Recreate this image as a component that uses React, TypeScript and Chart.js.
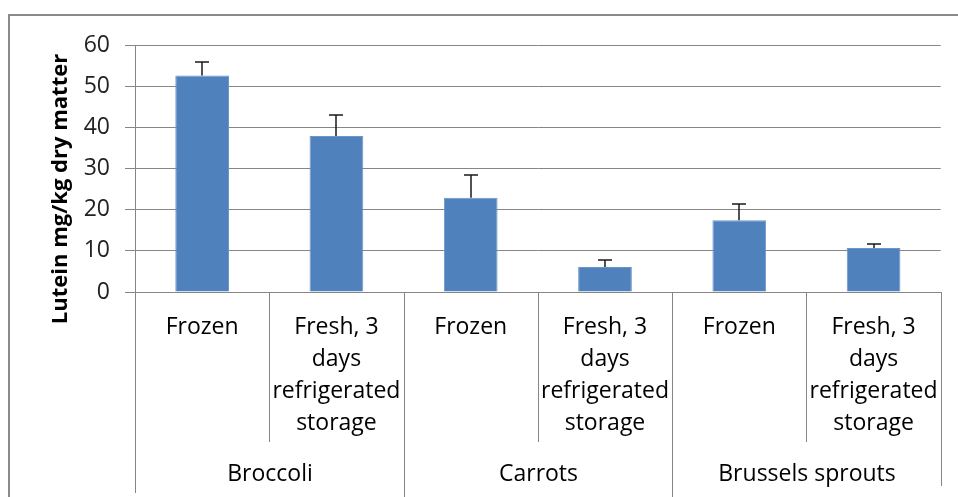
import React, { useEffect, useRef } from "react";
import { Chart, registerables } from "chart.js";

Chart.register(...registerables);

// ---- data ----
const groups: string[] = ["Broccoli", "Carrots", "Brussels sprouts"];
const treatments: string[][] = [["Frozen"], ["Fresh, 3", "days", "refrigerated", "storage"]];
const categoryLabels: string[][] = groups.flatMap(() => treatments);
const luteinMeans: number[] = [52.6, 37.9, 22.9, 6.1, 17.4, 10.7];
const luteinErrors: number[] = [3.2, 5.2, 5.5, 1.6, 4.0, 0.9];
const yMin = 0;
const yMax = 60;
const yStep = 10;
const yTitle = "Lutein mg/kg dry matter";

const FONT = "'Open Sans', sans-serif";
const GRID = "#868686";

const extrasPlugin = {
  id: "extras",
  afterDatasetsDraw(chart: any) {
    const ctx = chart.ctx;
    const y = chart.scales.y;
    const meta = chart.getDatasetMeta(0);
    ctx.save();
    ctx.strokeStyle = "#1a1a1a";
    ctx.lineWidth = 1.5;
    meta.data.forEach((bar: any, i: number) => {
      const cx = Math.round(bar.x);
      const top = y.getPixelForValue(luteinMeans[i]);
      const end = Math.round(y.getPixelForValue(luteinMeans[i] + luteinErrors[i]));
      ctx.beginPath();
      ctx.moveTo(cx, top);
      ctx.lineTo(cx, end);
      ctx.moveTo(cx - 7, end);
      ctx.lineTo(cx + 7, end);
      ctx.stroke();
    });
    ctx.restore();
  },
  afterDraw(chart: any) {
    const ctx = chart.ctx;
    const x = chart.scales.x;
    const area = chart.chartArea;
    const n = categoryLabels.length;
    const step = x.getPixelForValue(1) - x.getPixelForValue(0);
    const boundary = (k: number) => Math.round(x.getPixelForValue(0) - step / 2 + k * step) + 0.5;
    ctx.save();
    ctx.strokeStyle = GRID;
    ctx.lineWidth = 1;
    for (let k = 0; k <= n; k++) {
      const bx = boundary(k);
      let endY = 442;
      if (k === 0) endY = 493;
      else if (k === n) endY = 486;
      else if (k % treatments.length === 0) endY = 497;
      ctx.beginPath();
      ctx.moveTo(bx, area.bottom);
      ctx.lineTo(bx, endY);
      ctx.stroke();
    }
    // group labels
    ctx.fillStyle = "#000";
    ctx.font = `23px ${FONT}`;
    ctx.textAlign = "center";
    ctx.textBaseline = "middle";
    groups.forEach((g, gi) => {
      const a = boundary(gi * treatments.length);
      const b = boundary((gi + 1) * treatments.length);
      ctx.fillText(g, (a + b) / 2, 474);
    });
    // y axis title
    ctx.save();
    ctx.translate(67, 189);
    ctx.rotate(-Math.PI / 2);
    ctx.font = `bold 22px ${FONT}`;
    ctx.textAlign = "center";
    ctx.textBaseline = "alphabetic";
    ctx.fillText(yTitle, 0, 0);
    ctx.restore();
    // outer chart border
    ctx.strokeStyle = "#8a8a8a";
    ctx.lineWidth = 2;
    ctx.strokeRect(9, 15, 1000, 600);
    ctx.restore();
  },
};

export default function App() {
  const ref = useRef<HTMLCanvasElement | null>(null);
  useEffect(() => {
    if (!ref.current) return;
    const chart = new Chart(ref.current, {
      type: "bar",
      data: {
        labels: categoryLabels,
        datasets: [
          {
            data: luteinMeans,
            backgroundColor: "#4f81bd",
            borderColor: "#6d95c8",
            borderWidth: 1,
            categoryPercentage: 1,
            barPercentage: 0.4,
          },
        ],
      },
      options: {
        responsive: false,
        animation: false,
        devicePixelRatio: 1,
        layout: { padding: { left: 0, top: 45, right: 17, bottom: 0 } },
        plugins: { legend: { display: false }, tooltip: { enabled: false }, title: { display: false } },
        scales: {
          x: {
            type: "category",
            offset: true,
            grid: { display: false, drawTicks: false },
            border: { display: true, color: GRID, width: 1 },
            ticks: {
              autoSkip: false,
              maxRotation: 0,
              minRotation: 0,
              padding: 19,
              color: "#000",
              font: { family: FONT, size: 23, lineHeight: "32px" as any },
            },
            afterFit: (s: any) => {
              s.height = 205;
            },
          },
          y: {
            min: yMin,
            max: yMax,
            grid: { color: GRID, lineWidth: 1, drawTicks: true, tickLength: 10, tickColor: GRID },
            border: { display: true, color: GRID, width: 1 },
            ticks: {
              stepSize: yStep,
              padding: 15,
              color: "#222",
              font: { family: FONT, size: 23 },
            },
            afterFit: (s: any) => {
              s.width = 135;
            },
          },
        },
      },
      plugins: [extrasPlugin],
    });
    return () => chart.destroy();
  }, []);
  return (
    <div style={{ position: "absolute", left: 0, top: 0, width: 958, height: 497, background: "#fff" }}>
      <canvas ref={ref} width={958} height={497} style={{ display: "block" }} />
    </div>
  );
}
